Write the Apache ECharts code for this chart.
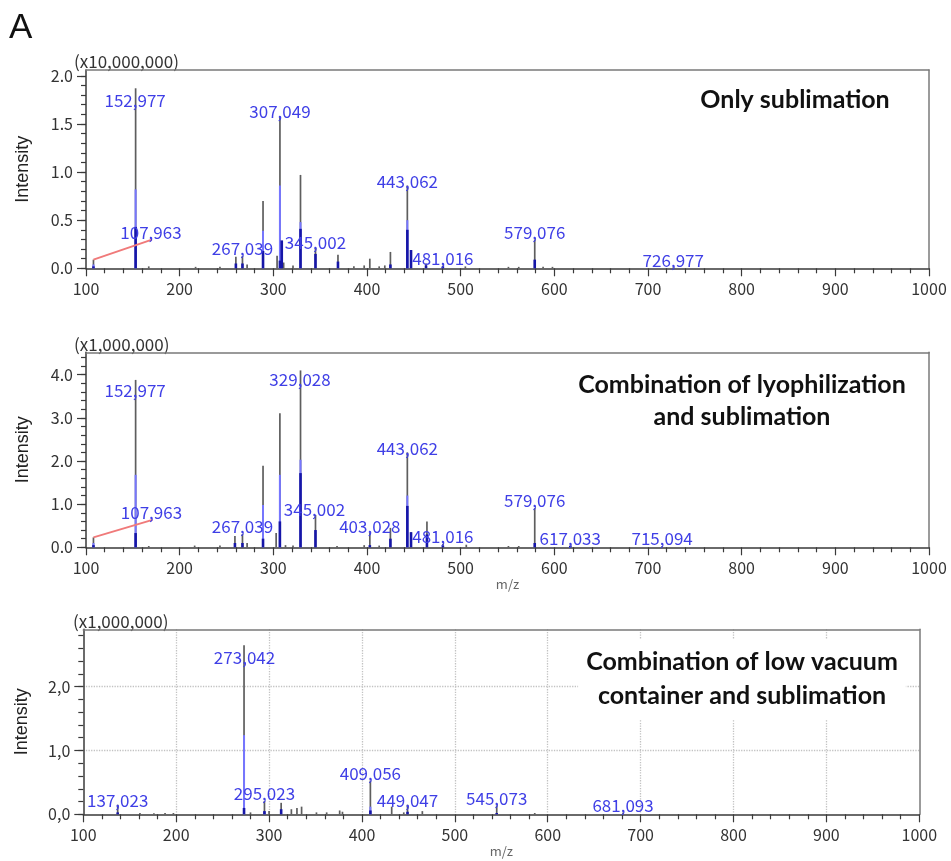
<!DOCTYPE html>
<html>
<head>
<meta charset="utf-8">
<script src="https://cdn.jsdelivr.net/npm/echarts@6/dist/echarts.min.js"></script>
<style>
  html, body { margin: 0; padding: 0; background: #fff; }
  #chart { width: 951px; height: 861px; }
</style>
</head>
<body>
<div id="chart"></div>
<script>
// ---- shared m/z axis ----
const mzTicks = [100, 200, 300, 400, 500, 600, 700, 800, 900, 1000];

// ---- panel 1: only sublimation (intensity x10,000,000) ----
const yTicks1 = [0, 0.5, 1.0, 1.5, 2.0];
const gray1 = [
  [107.963, 0.09], [152.977, 1.87], [167, 0.02], [217, 0.015], [243, 0.015],
  [260, 0.12], [267.039, 0.13], [272, 0.04], [289, 0.70], [304, 0.13],
  [307.049, 1.57], [311, 0.06], [321, 0.03], [329, 0.97], [345.002, 0.21],
  [369, 0.14], [386, 0.02], [397, 0.03], [403, 0.10], [413, 0.02], [419, 0.03],
  [425, 0.17], [443.062, 0.86], [447, 0.19], [463, 0.05], [481.016, 0.03],
  [505, 0.02], [551, 0.015], [562, 0.015], [579.076, 0.30], [588, 0.015],
  [598, 0.015], [726.977, 0.01]
];
const light1 = [
  [107.963, 0.04], [152.977, 0.82], [289, 0.39], [307.049, 0.86], [329, 0.48], [443.062, 0.50]
];
const navy1 = [
  [107.963, 0.02], [152.977, 0.43], [260, 0.05], [267.039, 0.05], [289, 0.18],
  [307.049, 0.08], [309, 0.29], [329, 0.41], [345.002, 0.15], [369, 0.07],
  [425, 0.04], [443.062, 0.40], [447, 0.19], [463, 0.03], [481.016, 0.02], [579.076, 0.09]
];
const labels1 = [107.963, 152.977, 267.039, 307.049, 345.002, 443.062, 481.016, 579.076, 726.977];

// ---- panel 2: lyophilization + sublimation (intensity x1,000,000) ----
const yTicks2 = [0, 1.0, 2.0, 3.0, 4.0];
const gray2 = [
  [107.963, 0.23], [152.977, 3.88], [167, 0.03], [216, 0.04], [243, 0.04],
  [259, 0.26], [267.039, 0.31], [272, 0.10], [289, 1.89], [303, 0.33],
  [307, 3.11], [313, 0.05], [321, 0.04], [329.028, 4.10], [345.002, 0.75],
  [368, 0.03], [397, 0.05], [403.028, 0.33], [413, 0.04], [425, 0.45],
  [443.062, 2.20], [447, 0.35], [464, 0.60], [481.016, 0.08], [506, 0.06],
  [551, 0.03], [562, 0.03], [579.076, 0.91], [617.033, 0.05], [715.094, 0.03]
];
const light2 = [
  [107.963, 0.10], [152.977, 1.68], [289, 0.98], [307, 1.68], [329.028, 2.03], [443.062, 1.20]
];
const navy2 = [
  [107.963, 0.05], [152.977, 0.33], [259, 0.10], [267.039, 0.10], [289, 0.20],
  [307, 0.60], [329.028, 1.72], [345.002, 0.40], [403.028, 0.05], [425, 0.20],
  [443.062, 0.96], [447, 0.35], [464, 0.30], [481.016, 0.04], [579.076, 0.10], [617.033, 0.03]
];
const labels2 = [107.963, 152.977, 267.039, 329.028, 345.002, 403.028, 443.062, 481.016, 579.076, 617.033, 715.094];

// ---- panel 3: low vacuum container + sublimation (intensity x1,000,000) ----
const yTicks3 = [0, 1.0, 2.0];
const gray3 = [
  [137.023, 0.15], [161, 0.02], [176, 0.015], [188, 0.02], [197, 0.02],
  [273.042, 2.65], [280, 0.03], [295.023, 0.21], [300, 0.05], [313, 0.18],
  [324, 0.08], [330, 0.10], [335, 0.12], [351, 0.03], [362, 0.03], [376, 0.06],
  [379, 0.04], [409.056, 0.53], [432, 0.12], [445, 0.03], [449.047, 0.15],
  [465, 0.05], [545.073, 0.14], [586, 0.02], [681.093, 0.03]
];
const light3 = [
  [273.042, 1.24], [295.023, 0.04], [409.056, 0.12]
];
const navy3 = [
  [137.023, 0.03], [273.042, 0.10], [295.023, 0.05], [313, 0.08],
  [409.056, 0.06], [449.047, 0.04], [545.073, 0.02]
];
const labels3 = [137.023, 273.042, 295.023, 409.056, 449.047, 545.073, 681.093];

// ---- layout and styling ----
const FONT_CJK = '"Noto Sans CJK JP", "Noto Sans", sans-serif';
const AXIS_COLOR = '#3a3a3a';
const BOX_COLOR = '#7a7a7a';
const LABEL_COLOR = '#3f3fe6';
const GRID_DOT = { type: 'dotted', color: '#c2c2c2', width: 1.3 };
const STEM = { gray: '#5e5e5e', light: '#7676ff', navy: '#1616a8' };

const panels = [
  {
    gray: gray1, light: light1, navy: navy1, labels: labels1,
    yMax: 2.06, yTicks: yTicks1, yStep: 0.5, minorStep: 0.1, dec: '.',
    grid: { left: 86, top: 70, width: 843, height: 198.3 },
    xName: '', gridLines: false, nameGap: 54,
    nudge: { '107.963': [57.5, -27.5, true], '152.977': [-0.5, 12.5], '307.049': [0, -5.5], '345.002': [0, -5.5], '443.062': [0, -4] }
  },
  {
    gray: gray2, light: light2, navy: navy2, labels: labels2,
    yMax: 4.52, yTicks: yTicks2, yStep: 1, minorStep: 0.2, dec: '.',
    grid: { left: 86, top: 352.3, width: 843, height: 195 },
    xName: 'm/z', gridLines: false, nameGap: 54,
    nudge: { '107.963': [58, -25, true], '152.977': [-0.5, 11], '329.028': [-0.5, 9], '345.002': [-1, -5], '443.062': [0, -3.5] }
  },
  {
    gray: gray3, light: light3, navy: navy3, labels: labels3,
    yMax: 2.9, yTicks: yTicks3, yStep: 1, minorStep: 0.2, dec: ',',
    grid: { left: 83.3, top: 629.3, width: 836, height: 185 },
    xName: 'm/z', gridLines: true, nameGap: 52,
    nudge: { '273.042': [0.5, 12], '137.023': [0, -4], '449.047': [0, -4] }
  }
];

function minorValues(max, step) {
  const out = [];
  for (let k = 0; k * step <= max + 1e-9; k++) out.push(+(k * step).toFixed(4));
  return out;
}

const grids = [], xAxes = [], yAxes = [], series = [];

panels.forEach((p, i) => {
  grids.push(Object.assign({ show: false, containLabel: false }, p.grid));

  // bottom m/z axis
  xAxes.push({
    gridIndex: i, type: 'value', min: mzTicks[0], max: mzTicks[mzTicks.length - 1], interval: 100, position: 'bottom',
    axisLine: { onZero: false, lineStyle: { color: AXIS_COLOR, width: 1.5 } },
    axisTick: { length: 8, lineStyle: { color: AXIS_COLOR, width: 1.2 } },
    minorTick: { show: true, splitNumber: 5, length: 5, lineStyle: { color: AXIS_COLOR, width: 1.2 } },
    axisLabel: { customValues: mzTicks, margin: 13, fontSize: 16, color: '#333', fontFamily: FONT_CJK,
      formatter: v => String(v) },
    splitLine: { show: p.gridLines, showMinLine: false, showMaxLine: false, lineStyle: GRID_DOT },
    name: p.xName, nameLocation: 'middle', nameGap: 27,
    nameTextStyle: { fontSize: 13, color: '#666', fontFamily: FONT_CJK }
  });
  // top frame edge
  xAxes.push({
    gridIndex: i, type: 'value', min: 100, max: 1000, position: 'top',
    axisLine: { show: true, onZero: false, lineStyle: { color: BOX_COLOR, width: 1.5 } },
    axisTick: { show: false }, axisLabel: { show: false }, splitLine: { show: false }
  });

  // intensity axis with labelled ticks
  yAxes.push({
    gridIndex: i, type: 'value', min: 0, max: p.yMax, interval: p.yStep, position: 'left',
    axisLine: { show: true, onZero: false, lineStyle: { color: AXIS_COLOR, width: 1.5 } },
    axisTick: { length: 9, customValues: p.yTicks, lineStyle: { color: AXIS_COLOR, width: 1.2 } },
    axisLabel: {
      customValues: p.yTicks, margin: 13, fontSize: 16, color: '#333', fontFamily: FONT_CJK,
      formatter: v => v.toFixed(1).replace('.', p.dec)
    },
    splitLine: { show: p.gridLines, showMinLine: false, showMaxLine: true, lineStyle: GRID_DOT },
    name: 'Intensity', nameLocation: 'middle', nameRotate: 90, nameGap: p.nameGap,
    nameTextStyle: { fontSize: 18, color: '#222', fontFamily: '"Liberation Sans", Arial, sans-serif' }
  });
  // minor intensity ticks
  yAxes.push({
    gridIndex: i, type: 'value', min: 0, max: p.yMax, position: 'left', offset: 0,
    axisLine: { show: false },
    axisTick: { length: 5, customValues: minorValues(p.yMax, p.minorStep), lineStyle: { color: AXIS_COLOR, width: 1.2 } },
    axisLabel: { show: false }, splitLine: { show: false }
  });
  // right frame edge
  yAxes.push({
    gridIndex: i, type: 'value', min: 0, max: p.yMax, position: 'right',
    axisLine: { show: true, onZero: false, lineStyle: { color: BOX_COLOR, width: 1.5 } },
    axisTick: { show: false }, axisLabel: { show: false }, splitLine: { show: false }
  });

  const xi = 2 * i, yi = 3 * i;

  const stem = (data, color, width, z) => ({
    type: 'custom', xAxisIndex: xi, yAxisIndex: yi, data, z, silent: true, animation: false,
    renderItem(params, api) {
      const top = api.coord([api.value(0), api.value(1)]);
      const base = api.coord([api.value(0), 0]);
      return { type: 'line', shape: { x1: top[0], y1: base[1], x2: top[0], y2: top[1] },
        style: { stroke: color, lineWidth: width } };
    }
  });
  series.push(stem(p.gray, STEM.gray, 1.7, 2));
  series.push(stem(p.light, STEM.light, 2, 3));
  series.push(stem(p.navy, STEM.navy, 2.6, 4));

  // peak annotations: anchored on the top of each labelled peak
  const heightOf = mz => (p.gray.find(d => d[0] === mz) || [mz, 0])[1];
  const labelData = p.labels.map(mz => [mz, heightOf(mz)]);
  series.push({
    type: 'custom', xAxisIndex: xi, yAxisIndex: yi, data: labelData, z: 6, silent: true, animation: false,
    renderItem(params, api) {
      const mz = api.value(0);
      const top = api.coord([mz, api.value(1)]);
      const n = p.nudge[mz.toFixed(3)] || [0, -7];
      const cx = top[0] + n[0], cy = top[1] + n[1];
      const children = [];
      if (n[2]) {
        children.push({ type: 'line', shape: { x1: top[0], y1: top[1], x2: cx + 1, y2: cy + 7.5 },
          style: { stroke: '#f07a7a', lineWidth: 2 } });
      }
      children.push({ type: 'text', style: {
        text: mz.toFixed(3).replace('.', ','), x: cx, y: cy, align: 'center', verticalAlign: 'middle',
        fill: LABEL_COLOR, font: '17px ' + FONT_CJK } });
      return { type: 'group', children };
    }
  });
});

const titleFont = 'bold 25px Lato, "Open Sans", sans-serif';
const scaleFont = '17px ' + FONT_CJK;

const graphic = [
  { type: 'text', left: 9, top: 11, style: { text: 'A', font: '35px "Liberation Sans", Arial, sans-serif', fill: '#111' } },
  { type: 'text', x: 74, y: 62, style: { text: '(x10,000,000)', font: scaleFont, fill: '#333', verticalAlign: 'middle' } },
  { type: 'text', x: 74, y: 345, style: { text: '(x1,000,000)', font: scaleFont, fill: '#333', verticalAlign: 'middle' } },
  { type: 'text', x: 73, y: 622, style: { text: '(x1,000,000)', font: scaleFont, fill: '#333', verticalAlign: 'middle' } },
  { type: 'text', x: 795, y: 100, z: 10, style: { text: 'Only sublimation', font: titleFont, fill: '#111',
      align: 'center', verticalAlign: 'middle' } },
  { type: 'text', x: 742, y: 401, z: 10, style: { text: 'Combination of lyophilization\nand sublimation', font: titleFont,
      lineHeight: 32, fill: '#111', align: 'center', verticalAlign: 'middle' } },
  { type: 'text', x: 742, y: 679, z: 10, style: { text: 'Combination of low vacuum\ncontainer and sublimation', font: titleFont,
      lineHeight: 34, fill: '#111', align: 'center', verticalAlign: 'middle', backgroundColor: '#fff', padding: [6, 8] } }
];

const chart = echarts.init(document.getElementById('chart'), null, { renderer: 'canvas', width: 951, height: 861 });
chart.setOption({
  backgroundColor: '#fff',
  animation: false,
  grid: grids,
  xAxis: xAxes,
  yAxis: yAxes,
  series,
  graphic
});
</script>
</body>
</html>
